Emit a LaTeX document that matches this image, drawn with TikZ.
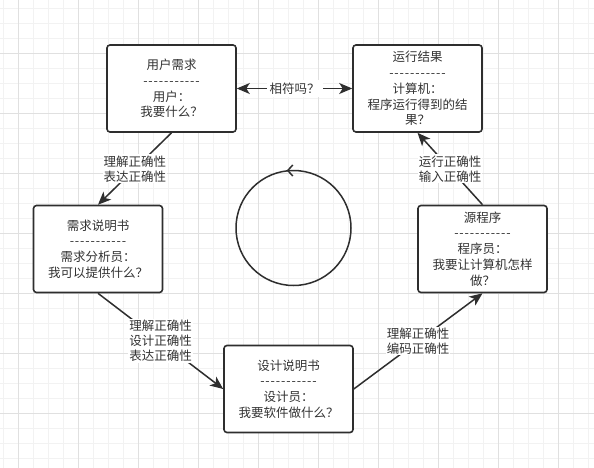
\documentclass[tikz,border=0pt]{standalone}
\usepackage{fontspec}
\setmainfont{Noto Sans CJK SC}
\usetikzlibrary{arrows.meta,decorations.markings}
\definecolor{gridminor}{HTML}{F2F2F2}
\definecolor{gridmajor}{HTML}{E0E0E0}
\definecolor{inkc}{HTML}{2E2E2E}
\definecolor{textc}{HTML}{333333}
\newcommand{\sepline}{{\addfontfeature{LetterSpace=7}-{}-{}-{}-{}-{}-{}-{}-{}-{}-{}-}}

\begin{document}
\begin{tikzpicture}[x=1pt,y=-1pt,
    stagebox/.style={draw=inkc, line width=1.6pt, rounded corners=3pt, fill=white,
      minimum width=129pt, minimum height=87pt, align=center, text=textc,
      font=\fontsize{12.5}{15.8}\selectfont},
    flowlbl/.style={fill=white, inner sep=1pt, align=center, text=textc,
      font=\fontsize{12.5}{15}\selectfont},
    tip/.tip={Stealth[length=13pt,width=11pt,inset=3.5pt]},
    flow/.style={draw=inkc, line width=1.5pt, -tip}]
  \useasboundingbox (0,0) rectangle (594,468);

  % Background grid
  \fill[white] (0,0) rectangle (594,468);
  \foreach \gx in {3.3,18.3,...,594} \draw[gridminor,line width=0.7pt] (\gx,0) -- (\gx,468);
  \foreach \gy in {8.3,23.3,...,468} \draw[gridminor,line width=0.7pt] (0,\gy) -- (594,\gy);
  \foreach \gx in {18.3,78.3,...,594} \draw[gridmajor,line width=0.7pt] (\gx,0) -- (\gx,468);
  \foreach \gy in {53.3,113.3,...,468} \draw[gridmajor,line width=0.7pt] (0,\gy) -- (594,\gy);

  % Stages
  \node[stagebox] (user) at (171.5,88.5) {用户需求\\\sepline\\用户：\\我要什么？};
  \node[stagebox] (result) at (417.5,88.5) {运行结果\\\sepline\\计算机：\\程序运行得到的结\\果？};
  \node[stagebox] (req) at (98,249) {需求说明书\\\sepline\\需求分析员：\\我可以提供什么？};
  \node[stagebox] (src) at (482.5,249) {源程序\\\sepline\\程序员：\\我要让计算机怎样\\做？};
  \node[stagebox] (design) at (288.5,389) {设计说明书\\\sepline\\设计员：\\我要软件做什么？};

  % Flow between stages
  \draw[flow] (user.south) -- node[flowlbl] {理解正确性\\表达正确性} (req.north);
  \draw[flow] (req.south) -- node[flowlbl] {理解正确性\\设计正确性\\表达正确性} (design.west);
  \draw[flow] (design.east) -- node[flowlbl] {理解正确性\\编码正确性} (src.south);
  \draw[flow] (src.north) -- node[flowlbl] {运行正确性\\输入正确性} (result.south);
  \draw[flow,tip-tip] (user.east) -- node[flowlbl,inner sep=3pt] {相符吗？} (result.west);

  % Cycle mark
  \draw[inkc,line width=1.5pt,postaction={decorate},
    decoration={markings,mark=at position 0.75 with {\arrow{Straight Barb[length=5pt,width=11pt,reversed]}}}]
    (293.5,228) circle[radius=57.5];
\end{tikzpicture}
\end{document}
